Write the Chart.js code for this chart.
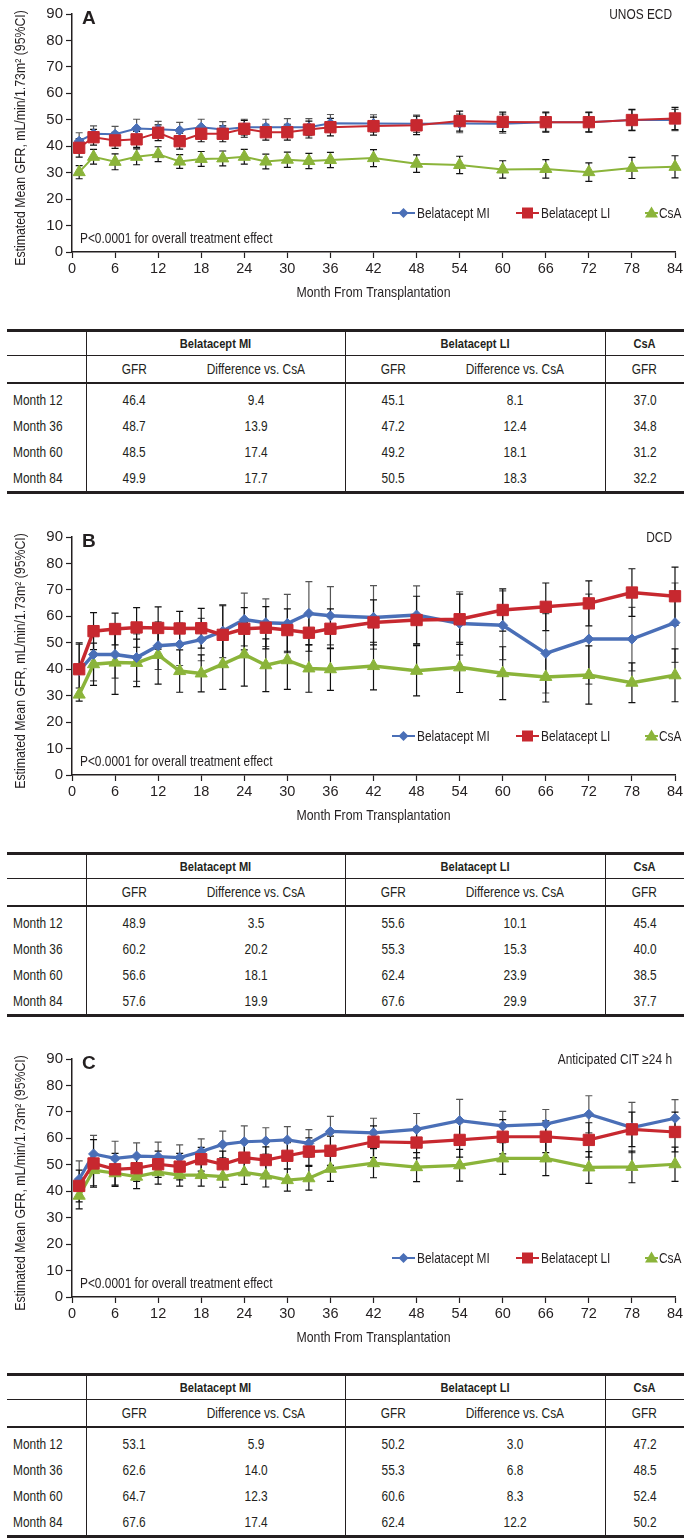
<!DOCTYPE html>
<html>
<head>
<meta charset="utf-8">
<script src="https://cdn.jsdelivr.net/npm/chart.js@4.4.1/dist/chart.umd.min.js"></script>
<style>
  body { margin: 0; background: #fff; }
  #page { position: relative; width: 684px; height: 1538px; overflow: hidden; }
  .panel { position: absolute; left: 0; }
  .tbl { position: absolute; left: 7px; width: 677px; border-collapse: collapse; table-layout: fixed;
         border-top: 3px solid #231f20; border-bottom: 3px solid #231f20;
         font-family: 'Liberation Sans', Arial, sans-serif;
         font-size: 14.5px; color: #231f20; }
  .tbl td { padding: 0; text-align: center; height: 26px; white-space: nowrap; }
  .tbl td span { display: inline-block; transform: scaleX(0.82); }
  .tbl td.lab { text-align: left; padding-left: 6px; }
  .tbl td.lab span { transform-origin: left center; }
  .tbl td.vl { border-left: 1px solid #231f20; }
  .tbl td.dmi { padding-right: 14px; }
  .tbl td.dli { padding-right: 16px; }
  .tbl tr.h1 td { height: 23px; border-bottom: 1.5px solid #231f20; font-weight: bold; font-size: 13.5px; }
  .tbl tr.h2 td { height: 26px; border-bottom: 2px solid #231f20; }
  .tbl tr.r1 td { padding-top: 3px; }
</style>
</head>
<body>
<div id="page">
  <div class="panel" style="top:0px"><canvas id="chartA" width="684" height="305"></canvas></div>
  <table class="tbl" id="tableA" style="top:329px"></table>
  <div class="panel" style="top:523px"><canvas id="chartB" width="684" height="305"></canvas></div>
  <table class="tbl" id="tableB" style="top:852px"></table>
  <div class="panel" style="top:1045px"><canvas id="chartC" width="684" height="305"></canvas></div>
  <table class="tbl" id="tableC" style="top:1373px"></table>
</div>
<script>
// Estimated mean GFR by month, three donor subgroups

const months = [1, 3, 6, 9, 12, 15, 18, 21, 24, 27, 30, 33, 36, 42, 48, 54, 60, 66, 72, 78, 84];
const xTickValues = [0, 6, 12, 18, 24, 30, 36, 42, 48, 54, 60, 66, 72, 78, 84];
const yTickValues = [0, 10, 20, 30, 40, 50, 60, 70, 80, 90];
const seriesNames = ['Belatacept MI', 'Belatacept LI', 'CsA'];

// A - UNOS ECD
const ecdMI  = [41.9, 44.7, 44.5, 46.7, 46.4, 46.0, 47.2, 46.3, 47.2, 47.2, 47.2, 47.2, 48.7, 48.6, 48.5, 48.6, 48.5, 49.1, 49.1, 49.9, 49.9];
const ecdLI  = [39.4, 43.4, 42.2, 42.6, 45.1, 41.9, 44.7, 44.7, 46.6, 45.3, 45.3, 46.3, 47.2, 47.6, 47.9, 49.5, 49.2, 49.1, 49.1, 49.9, 50.5];
const ecdCsA = [30.2, 36.0, 34.1, 36.0, 37.0, 34.2, 35.2, 35.4, 36.0, 34.2, 34.9, 34.4, 34.8, 35.5, 33.4, 32.9, 31.2, 31.4, 30.2, 31.8, 32.2];
const ecdMIci  = [3.2, 3.0, 3.0, 3.5, 3.0, 3.0, 3.0, 3.0, 3.0, 3.0, 3.2, 3.2, 3.3, 3.3, 3.3, 3.5, 3.6, 3.5, 3.6, 3.8, 4.0];
const ecdLIci  = [3.5, 3.0, 3.0, 3.0, 3.0, 3.0, 3.0, 3.0, 3.2, 3.0, 3.0, 3.2, 3.3, 3.4, 3.5, 3.8, 3.7, 3.8, 3.8, 4.0, 4.2];
const ecdCsAci = [2.5, 2.8, 3.0, 3.0, 2.8, 2.6, 2.8, 2.8, 2.8, 2.8, 2.9, 2.9, 2.9, 3.2, 3.3, 3.3, 3.3, 3.5, 3.5, 4.0, 4.2];

// B - DCD
const dcdMI  = [39.4, 45.6, 45.6, 44.4, 48.9, 49.4, 51.2, 54.4, 58.8, 57.6, 57.3, 61.1, 60.2, 59.6, 60.5, 57.3, 56.6, 46.0, 51.4, 51.4, 57.6];
const dcdLI  = [40.0, 54.4, 55.2, 55.8, 55.6, 55.4, 55.5, 53.0, 55.3, 55.7, 54.8, 53.8, 55.3, 57.7, 58.6, 58.9, 62.4, 63.6, 64.9, 69.0, 67.6];
const dcdCsA = [30.4, 41.9, 42.5, 42.4, 45.4, 39.3, 38.4, 41.9, 45.6, 41.5, 43.4, 40.3, 40.0, 41.2, 39.4, 40.7, 38.5, 37.1, 37.8, 34.9, 37.7];
const dcdMIci  = [10, 10, 9, 9, 9, 8, 8, 10, 10, 9, 11, 12, 11, 12, 11, 12, 13, 15, 17, 12, 15];
const dcdLIci  = [10, 7, 6, 7.5, 8, 6.5, 7.5, 11, 8, 8, 8, 7, 7.5, 8.5, 9, 9.5, 8, 9, 8.5, 9, 11];
const dcdCsAci = [2.5, 8, 12, 9, 11, 8, 7, 9.5, 12, 10, 11, 9, 8, 9, 9.5, 9.5, 10, 9.5, 11, 7.5, 10];

// C - Anticipated CIT >= 24 h
const citMI  = [44.5, 54.1, 52.4, 53.3, 53.1, 52.7, 55.0, 57.7, 58.7, 59.0, 59.4, 58.1, 62.6, 62.1, 63.4, 66.7, 64.7, 65.4, 69.1, 64.1, 67.6];
const citLI  = [42.0, 50.5, 48.3, 48.7, 50.2, 49.3, 52.1, 50.2, 52.7, 51.8, 53.4, 55.0, 55.3, 58.7, 58.4, 59.4, 60.6, 60.6, 59.4, 63.4, 62.4];
const citCsA = [38.3, 48.0, 46.8, 45.5, 47.2, 46.1, 46.1, 45.5, 47.1, 45.9, 44.2, 44.9, 48.5, 50.6, 49.1, 49.8, 52.4, 52.4, 49.0, 49.2, 50.2];
const citMIci  = [7, 7, 6.5, 5, 5.5, 4.8, 4.8, 5, 6, 5, 5, 5.2, 5.7, 5.5, 6, 8, 5.5, 5.5, 7, 9.5, 7];
const citLIci  = [6, 9, 6, 5, 5, 5, 4.5, 5, 5.5, 5, 5, 5.2, 5.5, 6, 5.8, 6.5, 6.5, 6, 6.5, 6.5, 7.5];
const citCsAci = [5, 6, 5, 4.5, 4.5, 4.2, 4.2, 4, 4.5, 4.3, 4.2, 4.5, 4.8, 5.5, 5.5, 6, 6, 6.5, 6, 6, 6.5];

// tables
const tableRowLabels = ['Month 12', 'Month 36', 'Month 60', 'Month 84'];
const ecdTable = [['46.4', '9.4', '45.1', '8.1', '37.0'], ['48.7', '13.9', '47.2', '12.4', '34.8'], ['48.5', '17.4', '49.2', '18.1', '31.2'], ['49.9', '17.7', '50.5', '18.3', '32.2']];
const dcdTable = [['48.9', '3.5', '55.6', '10.1', '45.4'], ['60.2', '20.2', '55.3', '15.3', '40.0'], ['56.6', '18.1', '62.4', '23.9', '38.5'], ['57.6', '19.9', '67.6', '29.9', '37.7']];
const citTable = [['53.1', '5.9', '50.2', '3.0', '47.2'], ['62.6', '14.0', '55.3', '6.8', '48.5'], ['64.7', '12.3', '60.6', '8.3', '52.4'], ['67.6', '17.4', '62.4', '12.2', '50.2']];

const FONT = "'Liberation Sans', Arial, sans-serif";
const INK = '#231f20';
const BLUE = '#4a6fb7', RED = '#c7282f', GREEN = '#8bb43a';
const SQUEEZE = 0.82;   // the original type is a narrow face

Chart.defaults.font.family = FONT;
Chart.defaults.color = INK;

// error bars under the lines
const errorBars = {
  id: 'errorBars',
  beforeDatasetsDraw(chart) {
    const { ctx, scales: { x, y } } = chart;
    ctx.save();
    chart.data.datasets.forEach(ds => {
      if (!ds.ci) return;
      ctx.strokeStyle = ds.barColor;
      ctx.lineWidth = 1.2;
      ds.data.forEach((p, j) => {
        const px = x.getPixelForValue(p.x);
        const top = y.getPixelForValue(p.y + ds.ci[j]);
        const bot = y.getPixelForValue(p.y - ds.ci[j]);
        ctx.beginPath();
        ctx.moveTo(px, top); ctx.lineTo(px, bot);
        ctx.moveTo(px - 3.5, top); ctx.lineTo(px + 3.5, top);
        ctx.moveTo(px - 3.5, bot); ctx.lineTo(px + 3.5, bot);
        ctx.stroke();
      });
    });
    ctx.restore();
  }
};

function narrowText(ctx, text, x, y, align, rot) {
  ctx.save();
  ctx.translate(x, y);
  if (rot) ctx.rotate(rot);
  ctx.scale(SQUEEZE, 1);
  ctx.textAlign = align;
  ctx.fillText(text, 0, 0);
  ctx.restore();
}

function marker(ctx, style, x, y, color) {
  ctx.fillStyle = color;
  ctx.beginPath();
  if (style === 'rectRot') {
    ctx.moveTo(x, y - 5); ctx.lineTo(x + 5, y); ctx.lineTo(x, y + 5); ctx.lineTo(x - 5, y);
  } else if (style === 'rect') {
    ctx.rect(x - 5.5, y - 5.5, 11, 11);
  } else {
    ctx.moveTo(x, y - 6.5); ctx.lineTo(x + 6.5, y + 4.5); ctx.lineTo(x - 6.5, y + 4.5);
  }
  ctx.closePath();
  ctx.fill();
}

// axis titles, panel letter, subgroup label, p value and legend
const panelText = {
  id: 'panelText',
  afterDraw(chart, args, opts) {
    const { ctx, chartArea: a } = chart;
    ctx.save();
    ctx.fillStyle = INK;
    ctx.textBaseline = 'middle';

    ctx.font = '15px ' + FONT;
    narrowText(ctx, 'Estimated Mean GFR, mL/min/1.73m\u00B2 (95%CI)', 21, (a.top + a.bottom) / 2 + 5, 'center', -Math.PI / 2);
    narrowText(ctx, 'Month From Transplantation', (a.left + a.right) / 2, a.bottom + 41, 'center');

    ctx.font = "bold 19px 'Liberation Sans', Arial, sans-serif";
    ctx.textAlign = 'left';
    ctx.fillText(opts.letter, a.left + 10, a.top + 5);

    ctx.font = '14.5px ' + FONT;
    narrowText(ctx, opts.corner, a.right - 3, a.top + 1, 'right');
    narrowText(ctx, 'P<0.0001 for overall treatment effect', a.left + 8, a.bottom - 13, 'left');

    const ly = a.bottom - 39;
    const segs = [[-283, -260, -258], [-159, -136, -134], [-30, -17, -16]];
    chart.data.datasets.forEach((ds, i) => {
      const [s0, s1, tx] = segs[i];
      ctx.strokeStyle = ds.borderColor;
      ctx.lineWidth = 2;
      ctx.beginPath();
      ctx.moveTo(a.right + s0, ly); ctx.lineTo(a.right + s1, ly);
      ctx.stroke();
      marker(ctx, ds.pointStyle, a.right + (s0 + s1) / 2, ly, ds.borderColor);
      ctx.fillStyle = INK;
      narrowText(ctx, ds.label, a.right + tx, ly + 1, 'left');
    });
    ctx.restore();
  }
};

function series(vals, ci, i, lineW) {
  const colors = [BLUE, RED, GREEN];
  const styles = ['rectRot', 'rect', 'triangle'];
  const radii = [5, 8, 7];
  return {
    label: seriesNames[i],
    data: months.map((m, j) => ({ x: m, y: vals[j] })),
    ci: ci,
    barColor: i === 0 ? '#555' : '#111',
    borderColor: colors[i],
    backgroundColor: colors[i],
    borderWidth: lineW,
    pointStyle: styles[i],
    pointRadius: radii[i],
    pointBorderWidth: 1,
    pointBackgroundColor: colors[i],
    pointBorderColor: colors[i],
    tension: 0,
    clip: false,
    order: [2, 1, 3][i]
  };
}

function makeChart(id, letter, corner, mi, li, csa, miCi, liCi, csaCi, lineW) {
  return new Chart(document.getElementById(id), {
    type: 'line',
    data: {
      datasets: [series(mi, miCi, 0, lineW), series(li, liCi, 1, lineW), series(csa, csaCi, 2, lineW)]
    },
    options: {
      responsive: false,
      animation: false,
      events: [],
      layout: { padding: { top: 14, right: 7, left: 0, bottom: 0 } },
      plugins: {
        legend: { display: false },
        tooltip: { enabled: false },
        panelText: { letter: letter, corner: corner }
      },
      scales: {
        x: {
          type: 'linear',
          min: 0, max: 84,
          afterBuildTicks: s => { s.ticks = xTickValues.map(v => ({ value: v })); },
          afterFit: s => { s.height = 53; s.paddingLeft = 0; s.paddingRight = 0; },
          border: { display: true, color: INK, width: 1.5 },
          grid: { drawOnChartArea: false, drawTicks: true, tickLength: 6, tickColor: INK, tickWidth: 1.2 },
          ticks: { color: INK, font: { size: 14.5 }, padding: 2, maxRotation: 0, autoSkip: false }
        },
        y: {
          min: 0, max: 90,
          afterBuildTicks: s => { s.ticks = yTickValues.map(v => ({ value: v })); },
          afterFit: s => { s.width = 72; s.paddingTop = 0; s.paddingBottom = 0; },
          border: { display: true, color: INK, width: 1.5 },
          grid: { drawOnChartArea: false, drawTicks: true, tickLength: 6, tickColor: INK, tickWidth: 1.2 },
          ticks: { color: INK, font: { size: 15 }, padding: 3 }
        }
      }
    },
    plugins: [errorBars, panelText]
  });
}

function cell(text, cls) {
  return '<td' + (cls ? ' class="' + cls + '"' : '') + '><span>' + text + '</span></td>';
}

function buildTable(id, rows) {
  let html = '<colgroup><col style="width:79px"><col style="width:96px"><col style="width:163px">' +
             '<col style="width:96px"><col style="width:164px"><col style="width:79px"></colgroup>';
  html += '<tr class="h1"><td></td><td class="vl" colspan="2"><span>' + seriesNames[0] + '</span></td>' +
          '<td class="vl" colspan="2"><span>' + seriesNames[1] + '</span></td>' + cell(seriesNames[2], 'vl') + '</tr>';
  html += '<tr class="h2"><td></td>' + cell('GFR', 'vl') + cell('Difference vs. CsA', 'dmi') +
          cell('GFR', 'vl') + cell('Difference vs. CsA', 'dli') + cell('GFR', 'vl') + '</tr>';
  rows.forEach((r, i) => {
    html += '<tr' + (i === 0 ? ' class="r1"' : '') + '>' + cell(tableRowLabels[i], 'lab') +
            cell(r[0], 'vl') + cell(r[1], 'dmi') + cell(r[2], 'vl') + cell(r[3], 'dli') + cell(r[4], 'vl') + '</tr>';
  });
  document.getElementById(id).innerHTML = html;
}

makeChart('chartA', 'A', 'UNOS ECD', ecdMI, ecdLI, ecdCsA, ecdMIci, ecdLIci, ecdCsAci, 2);
makeChart('chartB', 'B', 'DCD', dcdMI, dcdLI, dcdCsA, dcdMIci, dcdLIci, dcdCsAci, 3.5);
makeChart('chartC', 'C', 'Anticipated CIT \u226524 h', citMI, citLI, citCsA, citMIci, citLIci, citCsAci, 3.2);

buildTable('tableA', ecdTable);
buildTable('tableB', dcdTable);
buildTable('tableC', citTable);
</script>
</body>
</html>
